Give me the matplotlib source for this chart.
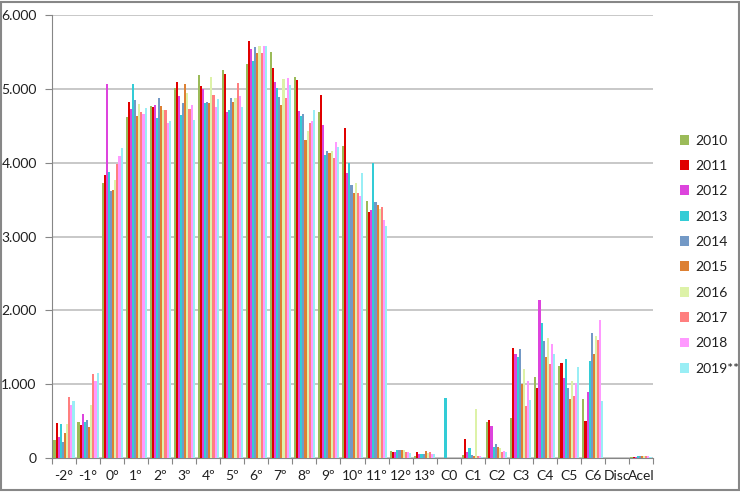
import matplotlib
matplotlib.use("Agg")
import matplotlib.pyplot as plt
import numpy as np
from matplotlib.patches import Rectangle
from matplotlib.ticker import FuncFormatter

plt.rcParams["font.family"] = ["Lato", "DejaVu Sans"]

categorias = ["-2°", "-1°", "0°", "1º", "2º", "3º", "4º", "5º", "6º", "7º", "8º", "9º",
              "10º", "11º", "12°", "13°", "C0", "C1", "C2", "C3", "C4", "C5", "C6",
              "Disc", "Acel"]

anos = ["2010", "2011", "2012", "2013", "2014", "2015", "2016", "2017", "2018", "2019**"]

v2010 = [249, 489, 3720, 4624, 4774, 5005, 5181, 5249, 5335, 5493, 5154, 4692, 4222, 3480,
         95, 27, 0, 36, 489, 548, 1100, 1249, 796, 0, 10]
v2011 = [480, 443, 3833, 4824, 4756, 5095, 5032, 5195, 5652, 5285, 5122, 4910, 4475, 3330,
         86, 77, 0, 253, 516, 1484, 946, 1285, 502, 0, 10]
v2012 = [280, 602, 5068, 4733, 4783, 4900, 4991, 4683, 5534, 5095, 4697, 4516, 3860, 3353,
         86, 59, 0, 81, 439, 1412, 2140, 1090, 891, 0, 20]
v2013 = [462, 489, 3878, 5068, 4606, 4652, 4805, 4710, 5380, 5005, 4629, 4100, 4000, 4000,
         104, 59, 814, 136, 154, 1362, 1833, 1339, 1317, 0, 25]
v2014 = [217, 520, 3615, 4855, 4878, 4814, 4828, 4882, 5561, 4887, 4665, 4154, 3701, 3471,
         104, 50, 0, 36, 190, 1475, 1579, 950, 1692, 0, 30]
v2015 = [344, 421, 3624, 4638, 4774, 5068, 4805, 4824, 5484, 4787, 4303, 4131, 3584, 3430,
         113, 95, 0, 23, 154, 1005, 1371, 796, 1407, 0, 30]
v2016 = [457, 715, 3760, 4796, 4719, 4937, 5154, 4882, 5579, 5127, 4434, 4154, 3724, 3371,
         104, 68, 0, 661, 131, 1208, 1624, 1045, 1647, 0, 25]
v2017 = [828, 1131, 3982, 4683, 4710, 4729, 4923, 5077, 5480, 4878, 4538, 4068, 3593, 3398,
         86, 86, 0, 23, 86, 710, 1267, 842, 1602, 0, 30]
v2018 = [715, 1045, 4086, 4665, 4538, 4778, 4751, 4900, 5579, 5145, 4561, 4276, 3543, 3226,
         86, 59, 0, 23, 100, 1041, 1548, 1018, 1864, 0, 25]
v2019 = [778, 1158, 4204, 4747, 4570, 4584, 4869, 4756, 5579, 5050, 4719, 4213, 3860, 3145,
         68, 59, 0, 18, 77, 787, 1412, 1231, 769, 0, 20]

series = [v2010, v2011, v2012, v2013, v2014, v2015, v2016, v2017, v2018, v2019]
cores = ["#9BBB59", "#E00000", "#DD44DD", "#33CCD6", "#7399C6", "#DD8033",
         "#DDF2A8", "#FF7F7F", "#FF99FF", "#99EEF5"]

fig = plt.figure(figsize=(7.4, 4.92), dpi=100)
ax = fig.add_axes([52 / 740, 34 / 492, 601 / 740, 443 / 492])

x = np.arange(len(categorias))
n = len(series)
largura = 0.088
for k, (vals, cor, ano) in enumerate(zip(series, cores, anos)):
    pos = x - n * largura / 2 + (k + 0.5) * largura
    ax.bar(pos, vals, width=largura, color=cor, label=ano, linewidth=0, zorder=3)

ax.set_xlim(-0.5, len(categorias) - 0.5)
ax.set_ylim(0, 6000)
ax.set_yticks(range(0, 6001, 1000))
ax.yaxis.set_major_formatter(FuncFormatter(lambda v, p: f"{int(v):,}".replace(",", ".")))
ax.grid(axis="y", color="#BFBFBF", linewidth=1.2, zorder=0)

ax.set_xticks(np.arange(len(categorias) + 1) - 0.5)
ax.set_xticklabels([])
ax.set_xticks(x, minor=True)
ax.set_xticklabels(categorias, minor=True)
ax.tick_params(axis="x", which="major", length=4, color="#868686")
ax.tick_params(axis="x", which="minor", length=0, pad=9, labelsize=10, colors="#202020")
ax.tick_params(axis="y", length=5, color="#868686", pad=6, labelsize=10, colors="#202020")

for s in ["top", "right"]:
    ax.spines[s].set_visible(False)
for s in ["left", "bottom"]:
    ax.spines[s].set_color("#868686")

leg = fig.legend(loc="upper left", bbox_to_anchor=(674 / 740, 1 - 129 / 492),
                 frameon=False, fontsize=10, handlelength=0.7, handleheight=0.7,
                 handletextpad=0.4, labelspacing=0.96, borderaxespad=0)
for t in leg.get_texts():
    t.set_color("#202020")

fig.patches.append(Rectangle((0.002, 0.004), 0.996, 0.992, transform=fig.transFigure,
                             fill=False, edgecolor="#878787", linewidth=1.5))

fig.savefig("out.png", dpi=100)
